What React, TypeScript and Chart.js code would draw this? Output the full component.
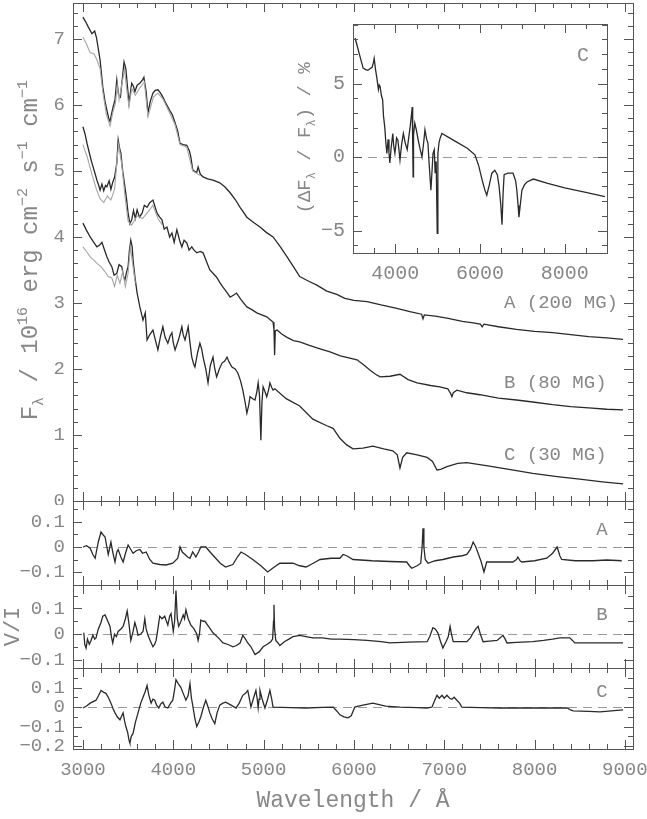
import React, { useEffect, useRef } from 'react';
import { Chart, registerables } from 'chart.js';
Chart.register(...registerables);

const FONT = '"Liberation Mono", "DejaVu Sans Mono", monospace';
const INK = '#2a2a2a';
const PALE = '#a6a6a6';
const FRAME = '#555555';
const TEXT = '#878787';
const LW = 1.3;

// ---------- flux spectra (wavelength Å, F_lambda) ----------
const specA: [number, number][] = [
  [3000,7.33],[3030,7.26],[3060,7.18],[3100,7.08],[3130,7.12],[3150,7.02],[3190,6.68],[3220,6.27],[3245,6.05],[3265,5.92],
  [3285,5.80],[3300,5.75],[3330,5.95],[3355,6.08],[3375,6.38],[3395,6.15],[3415,6.12],[3440,6.45],[3455,6.65],[3475,6.55],
  [3495,6.25],[3510,6.03],[3540,6.33],[3560,6.28],[3575,6.20],[3600,6.30],[3630,6.33],[3660,6.38],[3675,6.42],[3700,6.20],
  [3720,5.88],[3745,6.05],[3775,6.18],[3800,6.22],[3830,6.23],[3860,6.18],[3885,6.12],[3920,6.02],[3960,5.92],[3990,5.85],
  [4020,5.73],[4050,5.60],[4075,5.42],[4110,5.40],[4150,5.39],[4180,5.30],[4195,5.21],[4215,5.02],[4240,4.99],[4260,4.98],
  [4275,5.06],[4300,4.95],[4330,4.91],[4380,4.88],[4440,4.86],[4515,4.82],[4570,4.76],[4630,4.67],[4690,4.56],[4740,4.45],
  [4815,4.30],[4890,4.22],[4960,4.15],[5030,4.07],[5105,4.00],[5180,3.86],[5260,3.70],[5330,3.55],[5400,3.40],[5500,3.33],
  [5590,3.27],[5700,3.18],[5810,3.13],[5900,3.07],[6000,3.04],[6145,3.02],[6300,2.97],[6475,2.92],[6620,2.87],[6750,2.83],
  [6765,2.76],[6780,2.82],[6900,2.80],[7030,2.77],[7200,2.72],[7320,2.70],[7400,2.68],[7420,2.64],[7440,2.68],[7600,2.64],
  [7800,2.60],[8000,2.57],[8200,2.55],[8400,2.52],[8600,2.49],[8800,2.47],[8980,2.45]
];
const specAGrey: [number, number][] = [
  [3000,7.03],[3040,6.92],[3080,6.79],[3120,6.78],[3150,6.70],[3190,6.55],[3220,6.20],[3260,5.85],[3300,5.68],[3330,5.88],
  [3360,6.02],[3380,6.30],[3400,6.08],[3440,6.38],[3460,6.55],[3490,6.18],[3510,5.98],[3540,6.25],[3580,6.15],[3630,6.26],
  [3680,6.35],[3720,5.82],[3780,6.12],[3830,6.18],[3890,6.08],[3960,5.88],[4020,5.70],[4075,5.40],[4150,5.36],[4215,5.00],[4300,4.93]
];
const specB: [number, number][] = [
  [3000,5.67],[3025,5.55],[3045,5.42],[3075,5.25],[3100,5.12],[3130,4.98],[3155,4.86],[3175,4.78],[3190,4.71],[3210,4.80],
  [3230,4.70],[3250,4.78],[3265,4.76],[3290,4.85],[3310,4.72],[3330,4.83],[3350,4.90],[3375,5.12],[3390,5.47],[3405,5.35],
  [3420,5.27],[3440,5.00],[3465,4.76],[3485,4.55],[3500,4.36],[3520,4.20],[3540,4.26],[3560,4.40],[3580,4.28],[3600,4.41],
  [3625,4.30],[3655,4.36],[3680,4.48],[3710,4.45],[3740,4.52],[3775,4.56],[3800,4.45],[3820,4.36],[3850,4.30],[3875,4.26],
  [3900,4.12],[3930,4.15],[3960,4.00],[3985,4.06],[4010,3.92],[4040,4.11],[4070,3.95],[4095,3.85],[4120,3.95],[4150,3.91],
  [4175,3.80],[4205,3.85],[4230,3.80],[4260,3.76],[4300,3.78],[4330,3.76],[4370,3.62],[4405,3.50],[4440,3.45],[4480,3.39],
  [4520,3.30],[4550,3.24],[4600,3.15],[4630,3.09],[4670,3.12],[4700,3.15],[4750,3.05],[4815,2.94],[4870,2.90],[4925,2.85],
  [4980,2.82],[5035,2.79],[5080,2.74],[5105,2.71],[5115,2.60],[5122,2.21],[5130,2.58],[5150,2.59],[5200,2.53],[5260,2.48],
  [5330,2.43],[5400,2.41],[5500,2.36],[5590,2.32],[5735,2.26],[5850,2.20],[6035,2.14],[6110,2.06],[6180,1.98],[6240,1.92],
  [6290,1.88],[6400,1.89],[6510,1.92],[6600,1.84],[6700,1.79],[6850,1.75],[6950,1.73],[7040,1.70],[7070,1.63],[7085,1.58],
  [7100,1.64],[7140,1.68],[7250,1.64],[7395,1.61],[7600,1.56],[7800,1.53],[7980,1.50],[8200,1.46],[8400,1.43],[8600,1.41],
  [8800,1.39],[8980,1.38]
];
const specBGrey: [number, number][] = [
  [3000,5.40],[3050,5.20],[3100,4.95],[3150,4.72],[3190,4.58],[3230,4.52],[3270,4.62],[3310,4.56],[3350,4.72],[3380,5.20],
  [3395,5.40],[3430,5.10],[3465,4.62],[3500,4.24],[3540,4.18],[3600,4.32],[3660,4.28],[3720,4.38],[3775,4.48],[3830,4.28],[3880,4.18]
];
const specC: [number, number][] = [
  [3000,4.21],[3040,4.10],[3080,4.00],[3120,3.92],[3155,3.85],[3185,3.88],[3210,3.92],[3240,3.80],[3265,3.70],[3290,3.62],
  [3320,3.55],[3345,3.42],[3375,3.45],[3400,3.58],[3430,3.55],[3450,3.40],[3465,3.35],[3485,3.48],[3500,3.55],[3515,3.80],
  [3530,3.95],[3545,3.85],[3555,3.65],[3575,3.40],[3600,3.15],[3630,2.94],[3665,2.74],[3690,2.85],[3710,2.44],[3740,2.52],
  [3775,2.59],[3800,2.45],[3830,2.29],[3860,2.50],[3885,2.64],[3910,2.48],[3940,2.39],[3965,2.50],[3985,2.55],[4000,2.40],
  [4020,2.29],[4060,2.45],[4095,2.64],[4110,2.52],[4130,2.44],[4150,2.55],[4165,2.64],[4185,2.40],[4205,2.18],[4225,2.08],
  [4240,2.03],[4270,2.25],[4295,2.39],[4315,2.30],[4330,2.18],[4360,2.00],[4385,1.79],[4410,2.05],[4440,2.18],[4460,2.00],
  [4480,1.88],[4510,2.00],[4540,2.09],[4570,2.12],[4595,2.18],[4620,2.10],[4650,2.03],[4685,2.00],[4715,1.94],[4745,1.82],
  [4770,1.68],[4795,1.50],[4815,1.33],[4835,1.45],[4850,1.58],[4880,1.55],[4905,1.53],[4925,1.65],[4940,1.79],[4955,1.60],
  [4970,0.92],[4982,1.50],[4995,1.73],[5015,1.66],[5035,1.58],[5055,1.68],[5070,1.79],[5090,1.72],[5105,1.68],[5125,1.70],
  [5250,1.55],[5400,1.44],[5545,1.24],[5700,1.14],[5770,1.10],[5845,0.95],[5920,0.85],[5990,0.79],[6100,0.80],[6210,0.83],
  [6330,0.79],[6430,0.76],[6480,0.70],[6510,0.50],[6540,0.66],[6585,0.73],[6700,0.70],[6810,0.66],[6870,0.60],[6920,0.47],
  [6960,0.48],[7030,0.52],[7150,0.57],[7250,0.58],[7500,0.53],[7750,0.47],[7980,0.42],[8250,0.37],[8500,0.33],[8750,0.29],[8980,0.26]
];
const specCGrey: [number, number][] = [
  [3000,3.85],[3040,3.78],[3080,3.70],[3120,3.65],[3155,3.60],[3200,3.55],[3240,3.48],[3280,3.40],[3320,3.38],[3350,3.25],
  [3380,3.42],[3410,3.30],[3440,3.48],[3470,3.25],[3500,3.45],[3525,3.85],[3550,3.60],[3580,3.30]
];

// ---------- inset: relative flux difference for C (%) ----------
const insetC: [number, number][] = [
  [3050,8.1],[3150,7.0],[3240,6.05],[3300,5.95],[3350,5.9],[3400,6.0],[3450,6.1],[3480,6.4],[3500,6.7],[3530,6.0],
  [3560,5.45],[3600,4.6],[3620,4.9],[3640,4.8],[3670,4.2],[3700,3.9],[3720,2.8],[3750,2.05],[3775,1.0],[3800,0.25],
  [3830,1.2],[3850,0.3],[3870,-0.4],[3900,0.6],[3940,1.6],[3960,0.8],[3990,0.25],[4030,1.3],[4060,1.15],[4085,0.5],
  [4110,-0.2],[4150,0.9],[4190,1.6],[4230,1.0],[4280,0.5],[4320,1.4],[4350,2.05],[4400,3.4],[4410,1.0],[4420,-1.35],
  [4430,1.5],[4460,2.3],[4500,1.8],[4540,1.15],[4580,0.6],[4630,0.0],[4670,1.0],[4700,1.85],[4740,1.2],[4770,0.95],
  [4800,-0.5],[4840,-2.25],[4870,-0.8],[4890,0.25],[4920,0.5],[4940,-1.1],[4965,-0.3],[4990,-5.2],[5005,0.2],[5030,0.95],
  [5060,1.3],[5100,1.6],[5400,1.1],[5700,0.6],[5880,0.15],[5970,-0.6],[6050,-1.55],[6110,-2.2],[6160,-2.6],[6220,-1.9],
  [6280,-1.1],[6350,-0.9],[6410,-1.2],[6450,-2.0],[6490,-3.2],[6520,-4.6],[6545,-2.5],[6570,-1.2],[6660,-1.1],[6780,-1.1],
  [6840,-1.6],[6870,-2.25],[6900,-3.3],[6920,-4.1],[6950,-3.3],[6990,-2.25],[7050,-1.9],[7110,-1.7],[7260,-1.5],[7600,-1.8],
  [8000,-2.1],[8500,-2.4],[8950,-2.7]
];

// ---------- circular polarisation V/I ----------
const polA: [number, number][] = [
  [3000,0.0],[3040,0.005],[3080,-0.005],[3110,-0.03],[3135,-0.045],[3170,0.02],[3200,0.06],[3220,0.05],[3245,0.04],[3265,0.0],
  [3280,-0.03],[3310,0.02],[3330,-0.02],[3355,-0.06],[3375,-0.02],[3390,-0.01],[3420,-0.04],[3445,-0.06],[3475,-0.02],[3500,0.008],
  [3530,-0.01],[3555,-0.025],[3590,-0.015],[3630,-0.01],[3660,-0.025],[3700,-0.02],[3740,-0.05],[3775,-0.065],[3850,-0.07],[3920,-0.072],
  [3995,-0.065],[4050,-0.045],[4065,-0.02],[4075,0.0],[4100,-0.02],[4130,-0.03],[4160,-0.04],[4185,-0.045],[4215,-0.02],[4250,-0.04],
  [4280,-0.02],[4305,0.0],[4360,0.0],[4420,-0.025],[4470,-0.045],[4520,-0.065],[4580,-0.08],[4660,-0.07],[4710,-0.04],[4750,-0.02],
  [4800,-0.03],[4880,-0.05],[4970,-0.075],[5045,-0.1],[5100,-0.085],[5180,-0.065],[5260,-0.065],[5325,-0.065],[5400,-0.075],[5470,-0.08],
  [5550,-0.065],[5625,-0.05],[5750,-0.045],[5845,-0.045],[5880,-0.03],[5920,-0.035],[5990,-0.05],[6200,-0.055],[6400,-0.058],[6585,-0.06],
  [6615,-0.075],[6640,-0.085],[6700,-0.075],[6740,-0.065],[6755,0.0],[6765,0.075],[6775,0.0],[6790,-0.05],[6820,-0.065],[6900,-0.055],
  [6985,-0.05],[7100,-0.04],[7200,-0.035],[7250,-0.03],[7290,-0.01],[7320,0.02],[7350,0.0],[7375,-0.025],[7410,-0.06],[7440,-0.1],
  [7470,-0.06],[7600,-0.06],[7760,-0.06],[7800,-0.05],[7815,-0.04],[7840,-0.055],[7860,-0.06],[8000,-0.055],[8135,-0.045],[8200,-0.025],
  [8250,0.0],[8280,-0.035],[8300,-0.05],[8450,-0.055],[8645,-0.055],[8800,-0.052],[8965,-0.055]
];
const polB: [number, number][] = [
  [3010,0.005],[3020,-0.04],[3035,-0.055],[3050,-0.02],[3070,-0.04],[3090,-0.025],[3110,-0.005],[3130,-0.02],[3145,-0.015],[3170,0.02],
  [3200,0.045],[3220,0.07],[3245,0.075],[3270,0.055],[3300,0.03],[3315,-0.01],[3330,-0.035],[3350,0.0],[3370,-0.01],[3390,0.01],
  [3420,0.02],[3445,0.03],[3470,0.06],[3490,0.09],[3510,0.04],[3530,-0.025],[3555,0.01],[3575,0.045],[3595,0.02],[3610,-0.005],
  [3640,0.0],[3665,0.01],[3685,0.06],[3700,0.02],[3720,-0.005],[3750,-0.03],[3775,-0.05],[3795,-0.04],[3810,-0.025],[3830,0.02],
  [3850,0.07],[3875,0.06],[3905,0.07],[3925,0.05],[3940,0.035],[3960,0.07],[3975,0.08],[3990,0.04],[4000,0.01],[4015,0.05],
  [4030,0.17],[4045,0.06],[4060,0.03],[4085,0.05],[4110,0.075],[4125,0.06],[4140,0.095],[4165,0.06],[4195,0.035],[4230,0.02],
  [4260,0.0],[4275,-0.025],[4290,0.0],[4305,0.055],[4330,0.05],[4350,0.05],[4400,0.025],[4440,0.005],[4500,-0.015],[4550,-0.035],
  [4600,-0.04],[4660,-0.05],[4700,-0.045],[4740,-0.035],[4770,-0.005],[4800,-0.02],[4825,-0.035],[4860,-0.05],[4905,-0.08],[4950,-0.07],
  [4995,-0.05],[5040,-0.04],[5080,-0.03],[5100,-0.02],[5110,0.05],[5115,0.115],[5122,0.02],[5135,-0.025],[5160,-0.035],[5180,-0.045],
  [5230,-0.03],[5280,-0.02],[5325,-0.01],[5400,-0.005],[5470,-0.01],[5545,-0.015],[5650,-0.015],[5750,-0.02],[5845,-0.02],[6000,-0.022],
  [6145,-0.025],[6300,-0.03],[6400,-0.035],[6600,-0.032],[6810,-0.03],[6840,-0.01],[6875,0.025],[6900,0.02],[6930,0.005],[6960,-0.03],
  [6985,-0.055],[7005,-0.04],[7020,-0.03],[7045,-0.01],[7065,0.03],[7080,0.0],[7100,-0.03],[7180,-0.03],[7250,-0.03],[7290,-0.015],
  [7320,0.005],[7350,0.02],[7375,0.03],[7400,0.0],[7430,-0.03],[7500,-0.028],[7585,-0.025],[7620,-0.015],[7650,-0.005],[7675,-0.02],
  [7695,-0.035],[7800,-0.033],[7980,-0.03],[8100,-0.025],[8200,-0.02],[8280,-0.015],[8390,-0.015],[8420,-0.025],[8445,-0.035],[8600,-0.035],
  [8800,-0.035],[8980,-0.035]
];
const polC: [number, number][] = [
  [3000,-0.005],[3040,0.005],[3080,0.02],[3145,0.035],[3175,0.06],[3200,0.085],[3230,0.075],[3255,0.07],[3280,0.05],[3310,0.02],
  [3335,-0.01],[3355,-0.03],[3380,-0.05],[3410,-0.065],[3430,-0.045],[3445,-0.03],[3460,-0.07],[3475,-0.1],[3495,-0.13],[3510,-0.17],
  [3520,-0.185],[3535,-0.15],[3555,-0.135],[3580,-0.08],[3610,-0.03],[3640,0.02],[3665,0.05],[3690,0.08],[3710,0.11],[3730,0.06],
  [3755,0.02],[3775,0.04],[3795,0.035],[3815,0.01],[3840,-0.005],[3860,0.015],[3885,0.025],[3910,0.0],[3940,-0.005],[3970,0.02],
  [3995,0.035],[4015,0.09],[4030,0.14],[4055,0.12],[4085,0.1],[4110,0.07],[4140,0.035],[4165,0.06],[4185,0.12],[4200,0.05],
  [4215,0.01],[4240,-0.06],[4260,-0.1],[4285,-0.075],[4305,-0.05],[4335,0.0],[4360,0.035],[4385,0.0],[4405,-0.03],[4430,-0.06],
  [4460,-0.085],[4485,-0.03],[4515,0.01],[4550,0.02],[4580,0.025],[4640,0.01],[4695,-0.005],[4730,0.02],[4770,0.06],[4800,0.07],
  [4825,0.085],[4840,0.05],[4860,0.0],[4885,0.04],[4915,0.085],[4930,0.04],[4940,-0.005],[4950,0.04],[4960,0.085],[4985,0.04],
  [5015,-0.005],[5045,0.04],[5070,0.085],[5090,0.04],[5105,0.0],[5300,-0.003],[5470,-0.005],[5650,-0.002],[5770,0.0],[5810,-0.02],
  [5845,-0.04],[5890,-0.05],[5935,-0.055],[5970,-0.045],[6010,0.0],[6050,0.005],[6100,0.01],[6210,0.02],[6350,0.005],[6510,0.0],
  [6700,-0.003],[6810,-0.005],[6865,0.0],[6900,0.04],[6920,0.06],[6945,0.045],[6975,0.06],[7000,0.045],[7030,0.06],[7060,0.045],
  [7085,0.04],[7110,0.05],[7140,0.035],[7170,0.02],[7195,0.0],[7400,-0.003],[7615,-0.005],[8000,-0.005],[8360,-0.005],[8400,-0.015],
  [8425,-0.02],[8600,-0.022],[8725,-0.025],[8850,-0.02],[8980,-0.015]
];

// ---------- ticks and labels ----------
const wavelengthTicks = [3000, 4000, 5000, 6000, 7000, 8000, 9000];
const fluxTicks = [0, 1, 2, 3, 4, 5, 6, 7];
const insetXTicks = [4000, 6000, 8000];
const insetYTicks = [-5, 0, 5];
const polATicks = [-0.1, 0, 0.1];
const polBTicks = [-0.1, 0, 0.1];
const polCTicks = [-0.2, -0.1, 0, 0.1];
const spectrumNames = ['A (200 MG)', 'B (80 MG)', 'C (30 MG)'];
const panelNames = ['A', 'B', 'C'];

const fmt = (v: number) => (Math.round(v * 1000) / 1000).toString().replace('-', '\u2212');

function ticksAlong(min: number, max: number, minor: number, major: number) {
  const out: { v: number; major: boolean }[] = [];
  const ratio = Math.round(major / minor);
  for (let k = Math.ceil(min / minor - 1e-9); k * minor <= max + 1e-9; k++) {
    out.push({ v: k * minor, major: Math.abs(k % ratio) === 0 });
  }
  return out;
}

function drawRich(ctx: CanvasRenderingContext2D, segs: [string, string][], size: number, baseX: number, cy: number) {
  ctx.save();
  ctx.translate(baseX, cy);
  ctx.rotate(-Math.PI / 2);
  ctx.fillStyle = TEXT;
  ctx.textBaseline = 'alphabetic';
  ctx.textAlign = 'left';
  const parts = segs.map(([t, kind]) => {
    const s = kind ? Math.round(size * 0.64) : size;
    ctx.font = `${s}px ${FONT}`;
    return { t, s, dy: kind === 'sup' ? -size * 0.42 : kind === 'sub' ? size * 0.24 : 0, w: ctx.measureText(t).width };
  });
  let x = -parts.reduce((a, p) => a + p.w, 0) / 2;
  for (const p of parts) {
    ctx.font = `${p.s}px ${FONT}`;
    ctx.fillText(p.t, x, p.dy);
    x += p.w;
  }
  ctx.restore();
}

const framePlugin = {
  id: 'frame',
  beforeDatasetsDraw(chart: any, _a: any, o: any) {
    if (!o || !o.zero) return;
    const { ctx, chartArea: a } = chart;
    const y0 = Math.round(chart.scales.y.getPixelForValue(0)) + 0.5;
    ctx.save();
    ctx.strokeStyle = '#9a9a9a';
    ctx.lineWidth = 1;
    ctx.setLineDash([9, 6]);
    ctx.beginPath();
    ctx.moveTo(a.left, y0);
    ctx.lineTo(a.right, y0);
    ctx.stroke();
    ctx.restore();
  },
  afterDatasetsDraw(chart: any, _a: any, o: any) {
    if (!o) return;
    const { ctx, chartArea: a, scales } = chart;
    const xs = scales.x, ys = scales.y;
    ctx.save();
    ctx.strokeStyle = FRAME;
    ctx.lineWidth = 1;
    ctx.strokeRect(a.left + 0.5, a.top + 0.5, a.right - a.left, a.bottom - a.top);
    ctx.beginPath();
    for (const t of ticksAlong(xs.min, xs.max, o.xMinor, o.xMajor)) {
      const px = Math.round(xs.getPixelForValue(t.v)) + 0.5;
      const L = t.major ? o.majorLen : o.minorLen;
      ctx.moveTo(px, a.bottom); ctx.lineTo(px, a.bottom - L);
      ctx.moveTo(px, a.top); ctx.lineTo(px, a.top + L);
    }
    for (const t of ticksAlong(ys.min, ys.max, o.yMinor, o.yMajor)) {
      const py = Math.round(ys.getPixelForValue(t.v)) + 0.5;
      const L = t.major ? o.majorLen : o.minorLen;
      ctx.moveTo(a.left, py); ctx.lineTo(a.left + L, py);
      ctx.moveTo(a.right, py); ctx.lineTo(a.right - L, py);
    }
    ctx.stroke();
    ctx.fillStyle = TEXT;
    ctx.textBaseline = 'middle';
    for (const l of o.labels || []) {
      ctx.font = `${l.size}px ${FONT}`;
      ctx.textAlign = l.align;
      ctx.fillText(l.text, xs.getPixelForValue(l.x), ys.getPixelForValue(l.y));
    }
    if (o.rich) {
      drawRich(ctx, o.rich.segs, o.rich.size, a.left + o.rich.dx, ys.getPixelForValue(o.rich.cy));
    }
    ctx.restore();
  },
};

function lineSet(pairs: [number, number][], color: string, width: number) {
  return {
    data: pairs.map(([x, y]) => ({ x, y })),
    borderColor: color,
    borderWidth: width,
    pointRadius: 0,
    tension: 0,
    fill: false,
  };
}

function yScale(min: number, max: number, ticks: number[], width: number, extra: any = {}) {
  return {
    type: 'linear', min, max, bounds: 'data',
    grid: { display: false, drawTicks: false },
    border: { display: false },
    afterBuildTicks: (s: any) => { s.ticks = ticks.map((v) => ({ value: v })); },
    afterFit: (s: any) => { s.width = width; s.paddingTop = 0; s.paddingBottom = 0; },
    ticks: { color: TEXT, font: { family: FONT, size: 19 }, padding: 8, autoSkip: false, callback: (v: number) => fmt(v) },
    ...extra,
  };
}

function xScale(min: number, max: number, ticks: number[] | null, height: number, size: number, pad: number, extra: any = {}) {
  if (!ticks) return { type: 'linear', min, max, bounds: 'data', display: false };
  return {
    type: 'linear', min, max, bounds: 'data',
    grid: { display: false, drawTicks: false },
    border: { display: false },
    afterBuildTicks: (s: any) => { s.ticks = ticks.map((v) => ({ value: v })); },
    afterFit: (s: any) => { s.height = height; s.paddingLeft = 0; s.paddingRight = 0; },
    ticks: { color: TEXT, font: { family: FONT, size }, padding: pad, autoSkip: false, maxRotation: 0, callback: (v: number) => String(v) },
    ...extra,
  };
}

const WMIN = 2890, WMAX = 9090;

function baseOptions(padding: any, scales: any, frame: any) {
  return {
    responsive: false,
    animation: false,
    devicePixelRatio: 1,
    layout: { padding },
    scales,
    plugins: { legend: { display: false }, tooltip: { enabled: false }, frame },
  };
}

const mainConfig = () => ({
  type: 'line',
  data: {
    datasets: [
      lineSet(specAGrey, PALE, 1.1), lineSet(specBGrey, PALE, 1.1), lineSet(specCGrey, PALE, 1.1),
      lineSet(specA, INK, LW), lineSet(specB, INK, LW), lineSet(specC, INK, LW),
    ],
  },
  options: baseOptions(
    { top: 3, bottom: 4, left: 0, right: 14 },
    { x: xScale(WMIN, WMAX, null, 0, 19, 0), y: yScale(0, 7.545, fluxTicks, 73) },
    {
      xMinor: 200, xMajor: 1000, yMinor: 0.2, yMajor: 1, minorLen: 5, majorLen: 9,
      labels: [
        { x: 7661, y: 3.0, text: spectrumNames[0], size: 19, align: 'left' },
        { x: 7661, y: 1.79, text: spectrumNames[1], size: 19, align: 'left' },
        { x: 7661, y: 0.70, text: spectrumNames[2], size: 19, align: 'left' },
      ],
      rich: {
        dx: -36, cy: 3.8, size: 24,
        segs: [['F', ''], ['\u03bb', 'sub'], [' / 10', ''], ['16', 'sup'], [' erg cm', ''], ['\u22122', 'sup'], [' s', ''], ['\u22121', 'sup'], [' cm', ''], ['\u22121', 'sup']],
      },
    }
  ),
  plugins: [framePlugin],
});

const insetConfig = () => ({
  type: 'line',
  data: { datasets: [lineSet(insetC, INK, LW)] },
  options: baseOptions(
    { top: 24, bottom: 0, left: 0, right: 13 },
    { x: xScale(3000, 9000, insetXTicks, 47, 20, 9), y: yScale(-6.53, 9.05, insetYTicks, 83, { ticks: { color: TEXT, font: { family: FONT, size: 20 }, padding: 8, autoSkip: false, callback: (v: number) => fmt(v) } }) },
    {
      zero: true, xMinor: 500, xMajor: 2000, yMinor: 1, yMajor: 5, minorLen: 5, majorLen: 9,
      labels: [{ x: 8433, y: 6.9, text: 'C', size: 20, align: 'center' }],
      rich: { dx: -43, cy: 1.3, size: 19, segs: [['(\u0394F', ''], ['\u03bb', 'sub'], [' / F', ''], ['\u03bb', 'sub'], [') / %', '']] },
    }
  ),
  plugins: [framePlugin],
});

function polConfig(pairs: [number, number][], min: number, max: number, ticks: number[], name: string, labelY: number, bottom: boolean, yTitle: boolean) {
  const yExtra = yTitle
    ? { title: { display: true, text: 'V/I', color: TEXT, font: { family: FONT, size: 22 }, padding: 0 } }
    : {};
  const x = bottom
    ? xScale(WMIN, WMAX, wavelengthTicks, 70, 19, 10, {
        title: { display: true, text: 'Wavelength / \u00c5', color: TEXT, font: { family: FONT, size: 23 }, padding: { top: 0, bottom: 4 } },
      })
    : xScale(WMIN, WMAX, null, 0, 19, 0);
  return {
    type: 'line',
    data: { datasets: [lineSet(pairs, INK, LW)] },
    options: baseOptions(
      { top: 4, bottom: bottom ? 0 : 4, left: 0, right: 14 },
      { x, y: yScale(min, max, ticks, 73, yExtra) },
      {
        zero: true, xMinor: 200, xMajor: 1000, yMinor: 0.05, yMajor: 0.1, minorLen: 5, majorLen: 9,
        labels: [{ x: 8745, y: labelY, text: name, size: 19, align: 'center' }],
      }
    ),
    plugins: [framePlugin],
  };
}

function Panel({ left, top, width, height, build }: { left: number; top: number; width: number; height: number; build: () => any }) {
  const ref = useRef<HTMLCanvasElement>(null);
  useEffect(() => {
    const chart = new Chart(ref.current as HTMLCanvasElement, build());
    return () => chart.destroy();
  }, []);
  return <canvas ref={ref} width={width} height={height} style={{ position: 'absolute', left, top, width, height }} />;
}

export default function App() {
  return (
    <div style={{ position: 'fixed', left: 0, top: 0, width: 647, height: 819, background: '#fff', overflow: 'hidden' }}>
      <Panel left={0} top={0} width={647} height={505} build={mainConfig} />
      <Panel left={0} top={497} width={647} height={92} build={() => polConfig(polA, -0.152, 0.184, polATicks, panelNames[0], 0.068, false, false)} />
      <Panel left={0} top={581} width={647} height={91} build={() => polConfig(polB, -0.133, 0.192, polBTicks, panelNames[1], 0.075, false, true)} />
      <Panel left={0} top={664} width={647} height={155} build={() => polConfig(polC, -0.215, 0.2, polCTicks, panelNames[2], 0.077, true, false)} />
      <Panel left={270} top={0} width={350} height={300} build={insetConfig} />
    </div>
  );
}
